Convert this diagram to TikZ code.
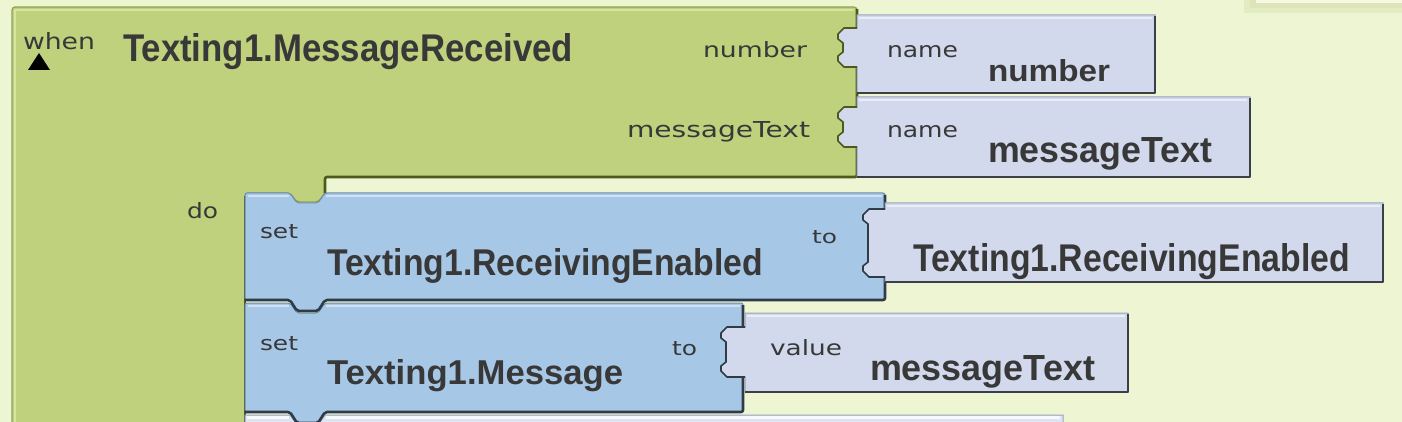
\documentclass[tikz,border=0pt]{standalone}
\usepackage{fontspec}
\usepackage{graphicx}
\newfontfamily\lsans{Liberation Sans}
\newfontfamily\dvs{DejaVu Sans}
\definecolor{bg}{HTML}{EEF5D3}
\definecolor{gfill}{HTML}{BFD17D}
\definecolor{glight}{HTML}{D5E3A3}
\definecolor{gdark}{HTML}{4C5A1E}
\definecolor{gedge}{HTML}{8FA352}
\definecolor{bfill}{HTML}{A7C7E6}
\definecolor{blight}{HTML}{CFE1F3}
\definecolor{bdark}{HTML}{2F3B47}
\definecolor{bedge}{HTML}{6B8CAD}
\definecolor{vfill}{HTML}{D2D9EC}
\definecolor{vlight}{HTML}{E9EDF7}
\definecolor{vdark}{HTML}{3C3F48}
\definecolor{vedge}{HTML}{9AA3BD}
\definecolor{txt}{HTML}{383838}
\definecolor{panel}{HTML}{F6F8E2}
\definecolor{pshadow}{HTML}{DCE4B8}
\tikzset{
  lbl/.style={anchor=base west,inner sep=0pt,outer sep=0pt,text=txt},
  darkedge/.style={line width=2.6pt,line join=round},
  lightedge/.style={line width=2.4pt,line join=round},
}
\begin{document}
\begin{tikzpicture}[x=1pt,y=-1pt]
\useasboundingbox (0,0) rectangle (1402,422);
\clip (0,0) rectangle (1402,422);
\fill[bg] (0,0) rectangle (1402,422);
% top-right panel
\fill[pshadow!60!bg] (1244,0) rectangle (1402,13);
\fill[pshadow] (1250,0) rectangle (1402,8);
\fill[panel] (1256,0) rectangle (1402,3);

% ---------- green event block ----------
\path[fill=gfill,draw=gedge,line width=1.2pt,rounded corners=3pt]
  (12,7) -- (857,7) -- (857,177) -- (325,177) -- (325,193) -- (318,202) -- (297,202) -- (290,193) -- (245,193) -- (245,440) -- (12,440) -- cycle;
\draw[glight,lightedge] (15,440) -- (15,10) -- (854,10);
\draw[gdark,darkedge,rounded corners=2pt] (857,9) -- (857,177) -- (325,177) -- (325,193);
\draw[gdark,darkedge] (245,196) -- (245,440);

% name number
\path[fill=vfill,draw=vedge,line width=1pt]
  (857,15) -- (1155,15) -- (1155,93) -- (857,93) -- (857,67) -- (844,67) -- (838,61) -- (838,56) -- (843,52) -- (843,43) -- (838,39) -- (838,34) -- (844,28) -- (857,28) -- cycle;
\draw[vlight,lightedge] (859,18) -- (1152,18);
\draw[vdark,darkedge] (1155,16) -- (1155,93) -- (857,93);
\draw[gdark,line width=1.6pt,line join=round] (857,67) -- (844,67) -- (838,61) -- (838,56) -- (843,52) -- (843,43) -- (838,39) -- (838,34) -- (844,28) -- (857,28);

% name messageText
\path[fill=vfill,draw=vedge,line width=1pt]
  (857,97) -- (1250,97) -- (1250,177) -- (857,177) -- (857,147) -- (844,147) -- (838,141) -- (838,136) -- (843,132) -- (843,122) -- (838,118) -- (838,113) -- (844,107) -- (857,107) -- cycle;
\draw[vlight,lightedge] (859,100) -- (1247,100);
\draw[vdark,darkedge] (1250,98) -- (1250,177) -- (857,177);
\draw[gdark,line width=1.6pt,line join=round] (857,147) -- (844,147) -- (838,141) -- (838,136) -- (843,132) -- (843,122) -- (838,118) -- (838,113) -- (844,107) -- (857,107);

% ---------- statement blocks ----------
% third (partly visible) block
\path[fill=vfill!70!white,draw=vedge,line width=1pt]
  (245,415) -- (290,415) -- (297,425) -- (318,425) -- (325,415) -- (1063,415) -- (1063,440) -- (245,440) -- cycle;
\draw[white!85!vfill,lightedge] (247,417.5) -- (289,417.5);
\draw[white!85!vfill,lightedge] (326,417.5) -- (1060,417.5);

% set Texting1.Message
\path[fill=bfill,draw=bedge,line width=1pt,rounded corners=2pt]
  (245,303) -- (290,303) -- (297,313) -- (318,313) -- (325,303) -- (743,303) -- (743,412) -- (325,412) -- (318,423) -- (297,423) -- (290,412) -- (245,412) -- cycle;
\draw[blight,lightedge] (248,306) -- (289,306);
\draw[blight,lightedge] (326,306) -- (740,306);
\draw[bdark,darkedge,rounded corners=2pt] (743,305) -- (743,412) -- (325,412) -- (318,423) -- (297,423) -- (290,412) -- (245,412);

% set Texting1.ReceivingEnabled
\path[fill=bfill,draw=bedge,line width=1pt,rounded corners=2pt]
  (245,193) -- (290,193) -- (297,203) -- (318,203) -- (325,193) -- (885,193) -- (885,300) -- (325,300) -- (318,311) -- (297,311) -- (290,300) -- (245,300) -- cycle;
\draw[blight,lightedge] (248,196) -- (289,196);
\draw[blight,lightedge] (326,196) -- (882,196);
\draw[bdark,darkedge,rounded corners=2pt] (885,195) -- (885,300) -- (325,300) -- (318,311) -- (297,311) -- (290,300) -- (245,300);

% value Texting1.ReceivingEnabled
\path[fill=vfill,draw=vedge,line width=1pt]
  (885,203) -- (1383,203) -- (1383,282) -- (885,282) -- (885,277) -- (869,277) -- (863,271) -- (863,266) -- (868,262) -- (868,224) -- (863,220) -- (863,215) -- (869,209) -- (885,209) -- cycle;
\draw[vlight,lightedge] (887,206) -- (1380,206);
\draw[vdark,darkedge] (1383,204) -- (1383,282) -- (885,282);
\draw[bdark,line width=1.6pt,line join=round] (885,277) -- (869,277) -- (863,271) -- (863,266) -- (868,262) -- (868,224) -- (863,220) -- (863,215) -- (869,209) -- (885,209);

% value messageText
\path[fill=vfill,draw=vedge,line width=1pt]
  (745,313) -- (1128,313) -- (1128,392) -- (745,392) -- (745,377) -- (727,377) -- (721,371) -- (721,366) -- (726,362) -- (726,342) -- (721,338) -- (721,333) -- (727,327) -- (745,327) -- cycle;
\draw[vlight,lightedge] (747,316) -- (1125,316);
\draw[vdark,darkedge] (1128,314) -- (1128,392) -- (745,392);
\draw[bdark,line width=1.6pt,line join=round] (745,377) -- (727,377) -- (721,371) -- (721,366) -- (726,362) -- (726,342) -- (721,338) -- (721,333) -- (727,327) -- (745,327);

% collapse triangle
\fill[black] (28,70) -- (50,70) -- (39,53) -- cycle;

% ---------- texts ----------
\node[lbl] (when) at (23,50) {\resizebox{72pt}{17pt}{\dvs when}};
\node[lbl] (evname) at (123,62) {\resizebox{450pt}{28pt}{\lsans\bfseries Texting1.MessageReceived}};
\node[lbl] (pnum) at (703,58) {\resizebox{104pt}{16pt}{\dvs number}};
\node[lbl] (pmsg) at (627,138) {\resizebox{183pt}{16pt}{\dvs messageText}};
\node[lbl] (name1) at (887,58) {\resizebox{71pt}{12pt}{\dvs name}};
\node[lbl] (vnum) at (988,82) {\resizebox{122pt}{22pt}{\lsans\bfseries number}};
\node[lbl] (name2) at (887,138) {\resizebox{71pt}{12pt}{\dvs name}};
\node[lbl] (vmsg) at (988,163) {\resizebox{224pt}{25pt}{\lsans\bfseries messageText}};
\node[lbl] (do) at (187,218) {\resizebox{31pt}{16pt}{\dvs do}};
\node[lbl] (set1) at (260,238) {\resizebox{38pt}{14pt}{\dvs set}};
\node[lbl] (prop1) at (327,275) {\resizebox{436pt}{27pt}{\lsans\bfseries Texting1.ReceivingEnabled}};
\node[lbl] (to1) at (812,243) {\resizebox{25pt}{13pt}{\dvs to}};
\node[lbl] (getprop) at (913,271) {\resizebox{437pt}{28pt}{\lsans\bfseries Texting1.ReceivingEnabled}};
\node[lbl] (set2) at (260,350) {\resizebox{38pt}{14pt}{\dvs set}};
\node[lbl] (prop2) at (327,384) {\resizebox{296pt}{25pt}{\lsans\bfseries Texting1.Message}};
\node[lbl] (to2) at (672,355) {\resizebox{25pt}{14pt}{\dvs to}};
\node[lbl] (valuelbl) at (770,355) {\resizebox{72pt}{16pt}{\dvs value}};
\node[lbl] (valmsg) at (870,380) {\resizebox{225pt}{25pt}{\lsans\bfseries messageText}};
\end{tikzpicture}
\end{document}
